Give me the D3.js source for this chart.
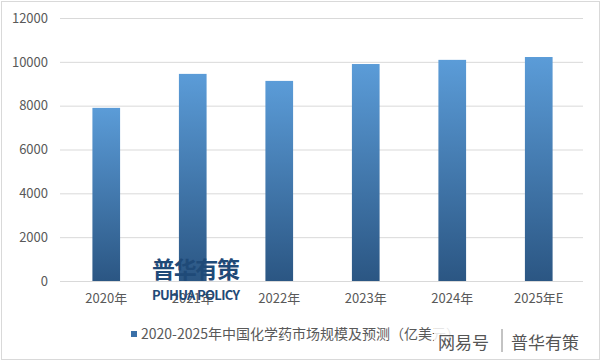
<!DOCTYPE html>
<html><head><meta charset="utf-8">
<script src="https://cdn.jsdelivr.net/npm/d3@7"></script>
<style>body{margin:0;background:#fff}svg{display:block}</style>
</head><body>
<script>
const categories = ["2020年","2021年","2022年","2023年","2024年","2025年E"];
const values = [7900, 9450, 9130, 9900, 10090, 10220];
const yTicks = [0,2000,4000,6000,8000,10000,12000];
const seriesName = "2020-2025年中国化学药市场规模及预测（亿美元）";

const W=601,H=361;
const svg=d3.select("body").append("svg").attr("width",W).attr("height",H);
const font="'Microsoft YaHei','Noto Sans CJK SC','DejaVu Sans',sans-serif";
svg.append("rect").attr("x",1.5).attr("y",1.5).attr("width",W-3).attr("height",H-3)
  .attr("fill","#fff").attr("stroke","#d9d9d9");

const x=d3.scaleBand().domain(categories).range([63,582]).paddingInner(0.68).paddingOuter(0.34);
const y=d3.scaleLinear().domain([0,12000]).range([281,18]);

const defs=svg.append("defs");
const g=defs.append("linearGradient").attr("id","bg").attr("x1",0).attr("y1",0).attr("x2",0).attr("y2",1);
g.append("stop").attr("offset","0%").attr("stop-color","#5b9cd8");
g.append("stop").attr("offset","100%").attr("stop-color","#2b5683");

const yAxis=svg.append("g").attr("transform","translate(60,0)")
  .call(d3.axisLeft(y).tickValues(yTicks).tickSize(-523).tickPadding(12).tickFormat(d3.format("d")));
yAxis.select(".domain").remove();
yAxis.selectAll("line").attr("stroke","#d9d9d9");
yAxis.selectAll("text").attr("fill","#595959").style("font-family",font).style("font-size","13px");

svg.append("g").selectAll("rect").data(values).join("rect")
  .attr("x",(d,i)=>x(categories[i])).attr("width",x.bandwidth())
  .attr("y",d=>y(d)).attr("height",d=>y(0)-y(d)).attr("fill","url(#bg)");

const xAxis=svg.append("g").attr("transform","translate(0,281)")
  .call(d3.axisBottom(x).tickSize(0).tickPadding(13));
xAxis.select(".domain").remove();
xAxis.selectAll("text").attr("fill","#595959").style("font-family",font).style("font-size","13px");

// watermark logo
svg.append("text").attr("x",196).attr("y",278).attr("text-anchor","middle")
  .attr("fill","#1f4a78").style("font-family",font).style("font-size","23px").style("font-weight","bold")
  .attr("textLength",88).text("普华有策");
svg.append("text").attr("x",196).attr("y",300).attr("text-anchor","middle")
  .attr("fill","#1f4a78").style("font-family",font).style("font-size","13px").style("font-weight","bold")
  .attr("textLength",88).text("PUHUA POLICY");

// legend
const lg=svg.append("g");
lg.append("rect").attr("x",131).attr("y",331).attr("width",6).attr("height",6).attr("fill","#3a70a8");
lg.append("text").attr("x",141).attr("y",339).attr("fill","#595959")
  .style("font-family",font).style("font-size","14px").text(seriesName);

// site watermark
const wm=svg.append("g");
wm.append("rect").attr("x",434).attr("y",326).attr("width",152).attr("height",28).attr("fill","#fff").attr("opacity",0.85);
wm.append("text").attr("x",438).attr("y",349).attr("fill","#555")
  .style("font-family",font).style("font-size","17px").text("网易号");
wm.append("line").attr("x1",502).attr("x2",502).attr("y1",329).attr("y2",352).attr("stroke","#888");
wm.append("text").attr("x",511).attr("y",349).attr("fill","#555")
  .style("font-family",font).style("font-size","17px").text("普华有策");
</script>
</body></html>
